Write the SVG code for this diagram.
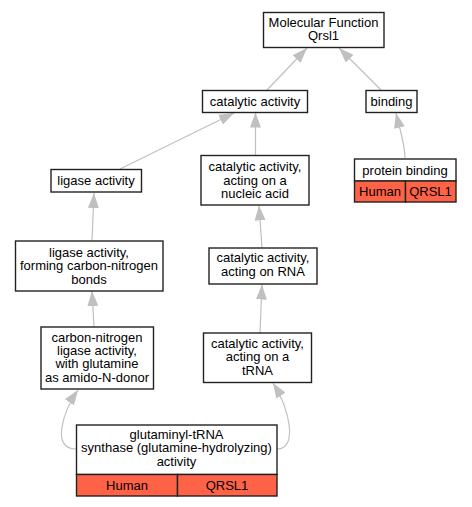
<svg xmlns="http://www.w3.org/2000/svg" width="472" height="507" viewBox="0 0 472 507">
<defs>
<style>
.box{fill:#ffffff;stroke:#222;stroke-width:1.4}
.red{fill:#ff6347;stroke:#222;stroke-width:1.4}
.t{font-family:"Liberation Sans",Arial,sans-serif;font-size:13px;fill:#000;text-anchor:middle}
.e{fill:none;stroke:#c0c0c0;stroke-width:1.2}
</style>
<marker id="ah" viewBox="0 0 15 11" refX="15" refY="5.5" markerWidth="15" markerHeight="11" markerUnits="userSpaceOnUse" orient="auto">
<path d="M0,0 L15,5.5 L0,11 z" fill="#c0c0c0"/>
</marker>
</defs>
<rect width="472" height="507" fill="#ffffff"/>
<g id="edges">
<path class="e" marker-end="url(#ah)" d="M267,90 L307,48"/>
<path class="e" marker-end="url(#ah)" d="M381,90 L339,48"/>
<path class="e" marker-end="url(#ah)" d="M120,169 L234,113"/>
<path class="e" marker-end="url(#ah)" d="M255.5,155 L255.5,112.5"/>
<path class="e" marker-end="url(#ah)" d="M405,158 C405,145 400,130 396,113"/>
<path class="e" marker-end="url(#ah)" d="M92,240 L94,193"/>
<path class="e" marker-end="url(#ah)" d="M94,327 L92,291"/>
<path class="e" marker-end="url(#ah)" d="M262,248 L259,205.5"/>
<path class="e" marker-end="url(#ah)" d="M260,333 L262,284.5"/>
<path class="e" marker-end="url(#ah)" d="M76,449 C50,449 64,410 78,390"/>
<path class="e" marker-end="url(#ah)" d="M277,449 C298,449 290,410 273,383"/>
</g>
<g id="mf">
<rect class="box" x="263.5" y="12.5" width="120.5" height="35"/>
<text class="t" x="323.5" y="26.5">Molecular Function</text>
<text class="t" x="323.5" y="39.5">Qrsl1</text>
</g>
<g id="catalytic">
<rect class="box" x="202.5" y="90.5" width="105" height="22"/>
<text class="t" x="255" y="106">catalytic activity</text>
</g>
<g id="binding">
<rect class="box" x="366" y="90.5" width="51" height="22"/>
<text class="t" x="391.5" y="106">binding</text>
</g>
<g id="protein_binding">
<rect class="box" x="354.5" y="159" width="101.5" height="22"/>
<rect class="red" x="354.5" y="181" width="51" height="21"/>
<rect class="red" x="405.5" y="181" width="50.5" height="21"/>
<text class="t" x="405" y="174.5">protein binding</text>
<text class="t" x="380" y="196">Human</text>
<text class="t" x="430.5" y="196">QRSL1</text>
</g>
<g id="nucleic">
<rect class="box" x="201" y="155.5" width="108" height="49.5"/>
<text class="t" x="255" y="171">catalytic activity,</text>
<text class="t" x="255" y="184.5">acting on a</text>
<text class="t" x="255" y="198">nucleic acid</text>
</g>
<g id="ligase">
<rect class="box" x="51" y="169.5" width="90.5" height="22.5"/>
<text class="t" x="96" y="185">ligase activity</text>
</g>
<g id="forming">
<rect class="box" x="15.5" y="241" width="147.5" height="50"/>
<text class="t" x="89" y="256.5">ligase activity,</text>
<text class="t" x="89" y="270">forming carbon-nitrogen</text>
<text class="t" x="89" y="283.5">bonds</text>
</g>
<g id="rna">
<rect class="box" x="209" y="248" width="108" height="36"/>
<text class="t" x="263" y="262">catalytic activity,</text>
<text class="t" x="263" y="275.5">acting on RNA</text>
</g>
<g id="carbon">
<rect class="box" x="41" y="327" width="112.5" height="62"/>
<text class="t" x="97" y="341.5">carbon-nitrogen</text>
<text class="t" x="97" y="355">ligase activity,</text>
<text class="t" x="97" y="368">with glutamine</text>
<text class="t" x="97" y="381.5">as amido-N-donor</text>
</g>
<g id="trna">
<rect class="box" x="203.5" y="333" width="108" height="49.5"/>
<text class="t" x="257.5" y="347.5">catalytic activity,</text>
<text class="t" x="257.5" y="361">acting on a</text>
<text class="t" x="257.5" y="374.5">tRNA</text>
</g>
<g id="glutaminyl">
<rect class="box" x="76.5" y="425" width="200.5" height="49.5"/>
<rect class="red" x="76.5" y="474.5" width="101" height="21.5"/>
<rect class="red" x="177.5" y="474.5" width="99.5" height="21.5"/>
<text class="t" x="176.5" y="438.5">glutaminyl-tRNA</text>
<text class="t" x="176.5" y="452">synthase (glutamine-hydrolyzing)</text>
<text class="t" x="176.5" y="465.5">activity</text>
<text class="t" x="127" y="489.5">Human</text>
<text class="t" x="227" y="489.5">QRSL1</text>
</g>
</svg>
